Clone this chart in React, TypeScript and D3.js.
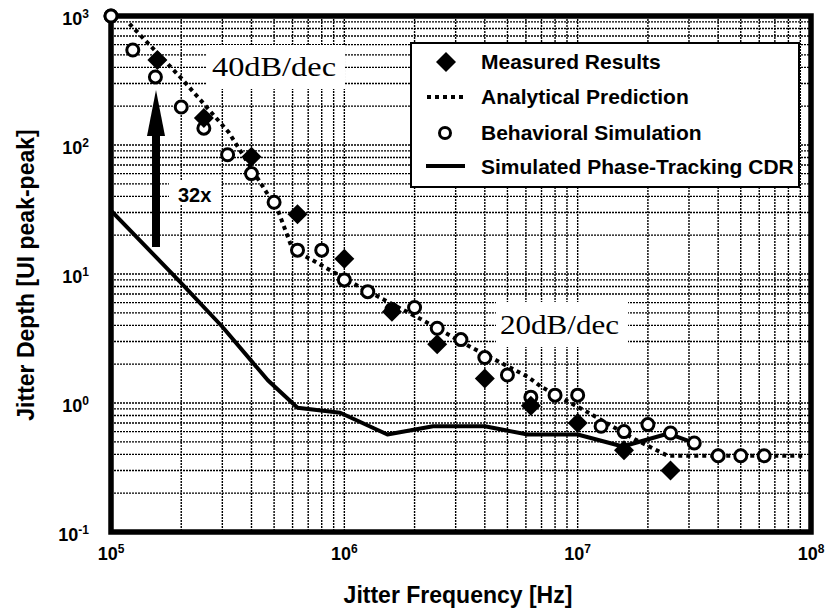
import React from 'react';
import * as d3 from 'd3';

// Jitter tolerance: measured vs. analytical vs. behavioural simulation
const measuredFreq = [1.58e5, 2.5e5, 4e5, 6.3e5, 1e6, 1.6e6, 2.5e6, 4e6, 6.3e6, 1e7, 1.58e7, 2.5e7];
const measuredDepth = [456, 162, 81, 29, 13.1, 5.1, 2.85, 1.55, 0.95, 0.7, 0.43, 0.3];

const analyticalFreq = [1.2e5, 2e5, 3.2e5, 4.2e5, 5.2e5, 6e5, 7.3e5, 1.17e6, 2.16e6, 3.5e6, 6.1e6, 7e6, 1.1e7, 1.77e7, 2.43e7, 9.5e7];
const analyticalDepth = [870, 330, 125, 57, 31, 15.5, 12.8, 7.9, 4.4, 2.7, 1.6, 1.33, 0.85, 0.52, 0.39, 0.39];

const behavioralFreq = [1e5, 1.24e5, 1.55e5, 2e5, 2.5e5, 3.16e5, 4e5, 5e5, 6.3e5, 8e5, 1e6, 1.26e6, 1.6e6, 2e6, 2.5e6, 3.16e6, 4e6, 5e6, 6.3e6, 8e6, 1e7, 1.26e7, 1.58e7, 2e7, 2.5e7, 3.16e7, 4e7, 5e7, 6.3e7];
const behavioralDepth = [1000, 545, 337, 197, 135, 84, 60, 36, 15.3, 15.3, 9, 7.3, 5.3, 5.5, 3.8, 3.1, 2.25, 1.65, 1.11, 1.15, 1.15, 0.66, 0.6, 0.68, 0.585, 0.49, 0.39, 0.39, 0.39];

const cdrFreq = [1e5, 2e5, 3e5, 4.7e5, 6.3e5, 9.6e5, 1.53e6, 2.4e6, 4e6, 6.1e6, 1e7, 1.56e7, 2.45e7, 3.15e7];
const cdrDepth = [31, 8.5, 3.9, 1.5, 0.92, 0.84, 0.57, 0.66, 0.66, 0.57, 0.57, 0.46, 0.58, 0.49];

const xTickExp = [5, 6, 7, 8];
const yTickExp = [-1, 0, 1, 2, 3];

const legendLabels = ['Measured Results', 'Analytical Prediction', 'Behavioral Simulation', 'Simulated Phase-Tracking CDR'];

const W = 825;
const H = 614;
const plot = { left: 111, right: 811, top: 16, bottom: 532 };
const sans = '"Liberation Sans", Arial, Helvetica, sans-serif';
const serif = '"Liberation Serif", "Times New Roman", serif';

const App: React.FC = () => {
  const x = d3.scaleLog().domain([1e5, 1e8]).range([plot.left, plot.right]);
  const y = d3.scaleLog().domain([0.1, 1000]).range([plot.bottom, plot.top]);

  const minorX: number[] = [];
  for (let e = 5; e < 8; e++) for (let m = 1; m < 10; m++) minorX.push(m * Math.pow(10, e));
  const minorY: number[] = [];
  for (let e = -1; e < 3; e++) for (let m = 1; m < 10; m++) minorY.push(m * Math.pow(10, e));

  const line = d3.line<[number, number]>().x((d) => x(d[0])).y((d) => y(d[1]));
  const analytical = line(analyticalFreq.map((f, i) => [f, analyticalDepth[i]]) as [number, number][]) || '';
  const cdr = line(cdrFreq.map((f, i) => [f, cdrDepth[i]]) as [number, number][]) || '';
  const diamond = d3.symbol(d3.symbolSquare, 200)() || '';

  const gridStyle = { stroke: '#000', strokeWidth: 1.4, strokeDasharray: '2,1' };

  return (
    <svg width={W} height={H} style={{ position: 'absolute', left: 0, top: 0, background: '#fff' }}>
      <rect x={0} y={0} width={W} height={H} fill="#fff" />
      {/* grid */}
      <g>
        {minorX.filter((v) => v > 1e5).map((v, i) => (
          <line key={'gx' + i} x1={x(v)} x2={x(v)} y1={plot.top} y2={plot.bottom} style={gridStyle} />
        ))}
        {minorY.filter((v) => v > 0.1).map((v, i) => (
          <line key={'gy' + i} x1={plot.left} x2={plot.right} y1={y(v)} y2={y(v)} style={gridStyle} />
        ))}
      </g>

      {/* white boxes behind annotations */}
      <rect x={206} y={45} width={139} height={44} fill="#fff" />
      <rect x={496} y={302} width={132} height={45} fill="#fff" />
      <rect x={169} y={181} width={52} height={24} fill="#fff" />

      <text x={212} y={76} fontFamily={serif} fontSize={27} textLength={124} lengthAdjust="spacingAndGlyphs">40dB/dec</text>
      <text x={500} y={334} fontFamily={serif} fontSize={27} textLength={119} lengthAdjust="spacingAndGlyphs">20dB/dec</text>

      {/* 32x arrow */}
      <rect x={152} y={130} width={8} height={117} fill="#000" />
      <path d="M156,90 L147,136 L165,136 Z" fill="#000" />
      <text x={178} y={202} fontFamily={sans} fontWeight="bold" fontSize={20}>32x</text>

      {/* series */}
      <path d={cdr} fill="none" stroke="#000" strokeWidth={4} strokeLinejoin="round" />
      <path d={analytical} fill="none" stroke="#000" strokeWidth={4} strokeDasharray="4,4" />
      {behavioralFreq.map((f, i) => (
        <circle key={'b' + i} cx={x(f)} cy={y(behavioralDepth[i])} r={6} fill="#fff" stroke="#000" strokeWidth={3} />
      ))}
      {measuredFreq.map((f, i) => (
        <path key={'m' + i} d={diamond} transform={`translate(${x(f)},${y(measuredDepth[i])}) rotate(45)`} fill="#000" />
      ))}

      {/* frame */}
      <rect x={plot.left} y={plot.top} width={plot.right - plot.left} height={plot.bottom - plot.top} fill="none" stroke="#000" strokeWidth={5.5} />
      <circle cx={x(1e5)} cy={y(1000)} r={6} fill="#fff" stroke="#000" strokeWidth={3} />

      {/* legend */}
      <rect x={411} y={43} width={388} height={144} fill="#fff" stroke="#000" strokeWidth={2} />
      <path d={diamond} transform="translate(446,62) rotate(45)" fill="#000" />
      <line x1={427} x2={465} y1={97} y2={97} stroke="#000" strokeWidth={4} strokeDasharray="4,4" />
      <circle cx={445} cy={133} r={5.5} fill="#fff" stroke="#000" strokeWidth={3} />
      <line x1={426} x2={465} y1={166} y2={166} stroke="#000" strokeWidth={4} />
      {legendLabels.map((t, i) => (
        <text key={t} x={481} y={[69, 104, 140, 174][i]} fontFamily={sans} fontWeight="bold" fontSize={21}>{t}</text>
      ))}

      {/* axes labels */}
      {yTickExp.map((e) => (
        <text key={'yt' + e} x={89} y={y(Math.pow(10, e)) + 9} textAnchor="end" fontFamily={sans} fontWeight="bold" fontSize={18}>
          10<tspan dy={-7} fontSize={12}>{e}</tspan>
        </text>
      ))}
      {xTickExp.map((e) => (
        <text key={'xt' + e} x={x(Math.pow(10, e))} y={560} textAnchor="middle" fontFamily={sans} fontWeight="bold" fontSize={18}>
          10<tspan dy={-7} fontSize={12}>{e}</tspan>
        </text>
      ))}
      <text x={458} y={603} textAnchor="middle" fontFamily={sans} fontWeight="bold" fontSize={23}>Jitter Frequency [Hz]</text>
      <text transform="translate(34,275) rotate(-90)" textAnchor="middle" fontFamily={sans} fontWeight="bold" fontSize={23}>Jitter Depth [UI peak-peak]</text>
    </svg>
  );
};

export default App;
